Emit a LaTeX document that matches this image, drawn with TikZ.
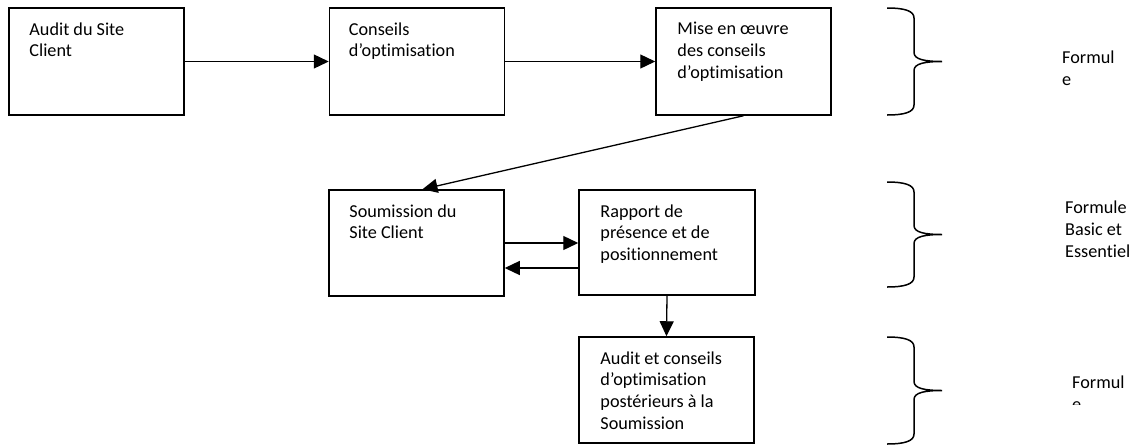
\documentclass[tikz,border=0pt]{standalone}
\usepackage{fontspec}
\setmainfont{Carlito}[Ligatures={NoCommon}]
\usetikzlibrary{arrows.meta,calc}

\begin{document}
\begin{tikzpicture}[x=1pt,y=1pt,
  box/.style={draw,line width=1.5pt,minimum width=175pt,minimum height=107pt,inner sep=0pt},
  boxtext/.style={anchor=north west,align=left,inner sep=0pt,font=\fontsize{18.2}{21.7}\selectfont},
  flow/.style={line width=1.3pt,-{Triangle[length=15pt,width=14pt]}}]
  \useasboundingbox (0,0) rectangle (1133,-445);
  % First row
  \node[box] (audit) at (96.5,-61.5) {};
  \node[boxtext] (audittxt) at ([shift={(21,-15)}]audit.north west) {Audit du Site\\Client};
  \node[box] (conseils) at (417,-61.5) {};
  \node[boxtext] (conseilstxt) at ([shift={(20,-15)}]conseils.north west) {Conseils\\d’optimisation};
  \node[box] (mise) at (743.5,-61.5) {};
  \node[boxtext] (misetxt) at ([shift={(22,-15)}]mise.north west) {Mise en œuvre\\des conseils\\d’optimisation};
  % Second row
  \node[box,minimum height=106pt] (soum) at (416.5,-243) {};
  \node[boxtext] (soumtxt) at ([shift={(21,-15)}]soum.north west) {Soumission du\\Site Client};
  \node[box,minimum width=176pt,minimum height=105pt] (rapport) at (667,-242.5) {};
  \node[boxtext] (rapporttxt) at ([shift={(22,-15)}]rapport.north west) {Rapport de\\présence et de\\positionnement};
  % Third row
  \node[box,minimum height=106pt] (post) at (666.5,-390) {};
  \node[boxtext] (posttxt) at ([shift={(22,-15)}]post.north west) {Audit et conseils\\d’optimisation\\postérieurs à la\\Soumission};
  % Connectors
  \draw[flow] (audit.east) -- (conseils.west);
  \draw[flow] (conseils.east) -- (mise.west);
  \draw[flow] (mise.south) -- ([xshift=6pt]soum.north);
  \draw[flow] (soum.east) -- (soum.east -| rapport.west);
  \coordinate (back) at ([yshift=-25.5pt]rapport.west);
  \draw[flow] (back) -- (back -| soum.east);
  \draw[flow] (rapport.south) -- (post.north);
  % Braces
  \foreach \ytop/\ybot in {8/115,182/287,337/444}{
    \pgfmathsetmacro{\ymid}{(\ytop+\ybot)/2}
    \draw[line width=1.5pt] (887,-\ytop) .. controls (905,-\ytop) and (914,-\ytop-3) .. (914,-\ytop-10)
      -- (914,-\ymid+9) .. controls (914,-\ymid+2) and (925,-\ymid) .. (942,-\ymid)
      .. controls (925,-\ymid) and (914,-\ymid-2) .. (914,-\ymid-9)
      -- (914,-\ybot+10) .. controls (914,-\ybot+3) and (905,-\ybot) .. (887,-\ybot);
  }
  % Formule labels
  \node[boxtext] (formuleA) at (1062,-50.5) {Formul\\e};
  \node[boxtext] (formuleB) at (1065,-201) {Formule\\Basic et\\Essentiel};
  \begin{scope}
    \clip (1040,-360) rectangle (1133,-404);
    \node[boxtext] (formuleC) at (1072,-375.5) {Formul\\e};
  \end{scope}
\end{tikzpicture}
\end{document}
